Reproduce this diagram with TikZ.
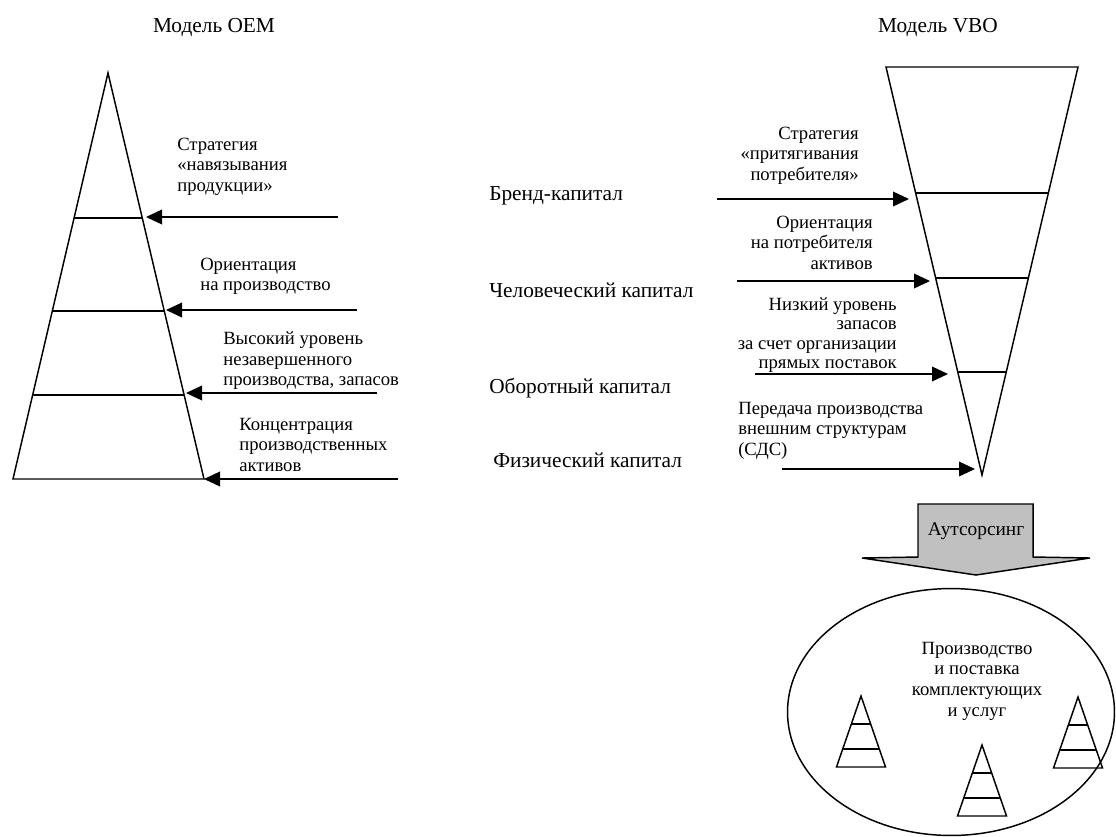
\documentclass[tikz,border=0pt]{standalone}
\usepackage{fontspec}
\setmainfont{Liberation Serif}
\usetikzlibrary{positioning}
\usetikzlibrary{arrows.meta}

\begin{document}
\begin{tikzpicture}
		[x=0.75pt, y=-0.75pt,
		txt/.style={inner sep=0pt, font=\fontsize{14}{15.5}\selectfont},
		big/.style={inner sep=0pt, font=\fontsize{16}{18}\selectfont},
		lbl/.style={txt, execute at begin node=\strut},
		edge/.style={line width=1.1pt},
		push/.style={line width=1.1pt, -{Triangle[length=12pt, width=11pt]}}]
		\useasboundingbox (0,0) rectangle (1116,836);

		\coordinate (oA) at (108,73);
		\coordinate (oL) at (13,479);
		\coordinate (oR) at (204,479);
		\draw[edge] (oL) -- (oA) -- (oR) -- cycle;
		\draw[edge] (74,218) -- (142,218);
		\draw[edge] (52,311) -- (164,311);
		\draw[edge] (32.3,395) -- (183.7,395);

		\coordinate (vA) at (982,475);
		\coordinate (vL) at (886,67);
		\coordinate (vR) at (1078,67);
		\draw[edge] (vL) -- (vA) -- (vR) -- cycle;
		\draw[edge] (915.6,193) -- (1048.4,193);
		\draw[edge] (935.6,278) -- (1028.4,278);
		\draw[edge] (957.8,372) -- (1006.2,372);

		\node[big, anchor=base] (oemTitle) at (214,32) {Модель OEM};
		\node[big, anchor=base] (vboTitle) at (938,32) {Модель VBO};

		\node[big, anchor=base west] (brand) at (489,200) {Бренд-капитал};
		\node[big, anchor=base west] (human) at (489,297) {Человеческий капитал};
		\node[big, anchor=base west] (working) at (489,393) {Оборотный капитал};
		\node[big, anchor=base west] (physical) at (493,467) {Физический капитал};

		\node[lbl, anchor=north west, align=left] (oemPush) at (177,137.5)
			{Стратегия\\«навязывания\\продукции»};
		\node[lbl, anchor=north west, align=left] (oemProd) at (200,257.5)
			{Ориентация\\на производство};
		\node[lbl, anchor=north west, align=left] (oemStock) at (223,331.5)
			{Высокий уровень\\незавершенного\\производства, запасов};
		\node[lbl, anchor=north west, align=left] (oemAssets) at (239,417.5)
			{Концентрация\\производственных\\активов};

		\node[lbl, anchor=north east, align=right] (vboPull) at (859,126.5)
			{Стратегия\\«притягивания\\потребителя»};
		\node[lbl, anchor=north east, align=right] (vboCons) at (873,215.5)
			{Ориентация\\на потребителя\\активов};
		\node[lbl, anchor=north east, align=right, font=\fontsize{14}{14.5}\selectfont]
			(vboStock) at (897,297.5)
			{Низкий уровень\\запасов\\за счет организации\\прямых поставок};
		\node[lbl, anchor=north west, align=left] (vboOut) at (738,401.5)
			{Передача производства\\внешним структурам\\(СДС)};

		\coordinate (p1) at (338,217);
		\coordinate (p2) at (357,310);
		\coordinate (p3) at (377,393);
		\coordinate (p4) at (398,479);
		\coordinate (t1) at (146,217);
		\coordinate (t2) at (166,310);
		\coordinate (t3) at (186,393);
		\coordinate (t4) at (204,479);
		\draw[push] (p1) -- (t1);
		\draw[push] (p2) -- (t2);
		\draw[push] (p3) -- (t3);
		\draw[push] (p4) -- (t4);

		\coordinate (q1) at (717,199);
		\coordinate (q2) at (737,281);
		\coordinate (q3) at (755,374);
		\coordinate (q4) at (782,469);
		\coordinate (s1) at (909,199);
		\coordinate (s2) at (930,281);
		\coordinate (s3) at (948,374);
		\coordinate (s4) at (975,469);
		\draw[push] (q1) -- (s1);
		\draw[push] (q2) -- (s2);
		\draw[push] (q3) -- (s3);
		\draw[push] (q4) -- (s4);

		\draw[edge, fill={rgb,255:red,192;green,192;blue,192}]
			(918,504) -- (1033,504) -- (1033,557) -- (1090,558)
			-- (976,575) -- (862,558) -- (918,557) -- cycle;
		\node[txt, anchor=base, font=\fontsize{14.5}{16}\selectfont] (outsrc) at (976,535) {Аутсорсинг};

		\draw[edge] (951,712) ellipse [x radius=122.6pt, y radius=92.6pt];
		\node[lbl, anchor=north, align=center] (suppliers) at (977,641.5)
			{Производство\\и поставка\\комплектующих\\и услуг};

		\foreach \px/\py in {861/696, 982/745, 1078/697}
		{
			\draw[edge] (\px-24.5,\py+71) -- (\px,\py) -- (\px+24.5,\py+71) -- cycle;
			\draw[edge] (\px-9.7,\py+28) -- (\px+9.7,\py+28);
			\draw[edge] (\px-18.3,\py+53) -- (\px+18.3,\py+53);
		}
	\end{tikzpicture}
\end{document}
